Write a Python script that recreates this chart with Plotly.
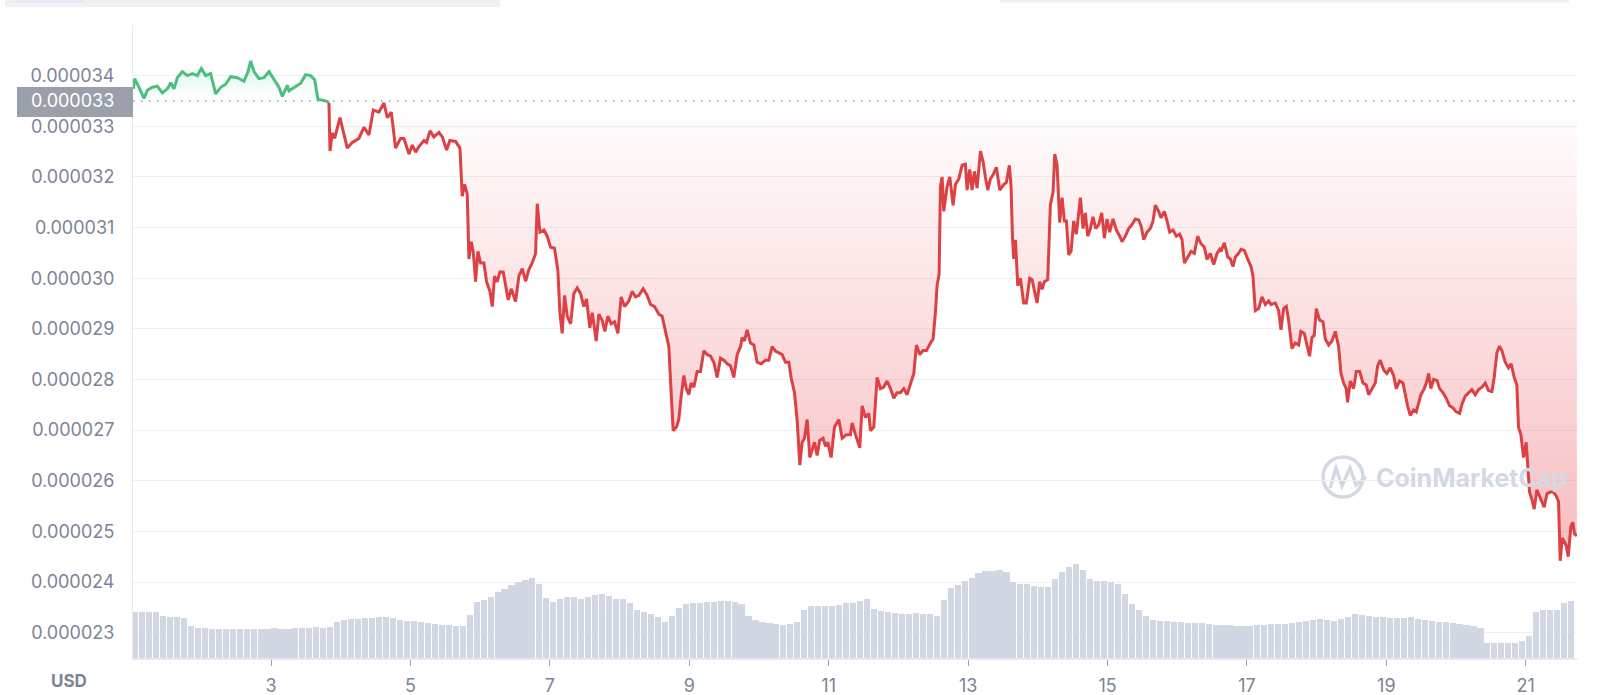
import numpy as np
import plotly.graph_objects as go

# price (in millionths of USD), days of month
days = [
    1.025, 1.044, 1.107, 1.178, 1.226, 1.298, 1.369, 1.441, 1.513, 1.561, 1.608, 1.656, 1.728, 1.800,
    1.871, 1.943, 2.000, 2.063, 2.134, 2.206, 2.278, 2.349, 2.421, 2.517, 2.612, 2.670, 2.708, 2.756,
    2.827, 2.899, 2.971, 3.042, 3.114, 3.162, 3.234, 3.258, 3.329, 3.425, 3.497, 3.568, 3.626, 3.673,
    3.760, 3.807, 3.831, 3.846, 3.879, 3.913, 3.989, 4.046, 4.094, 4.166, 4.261, 4.333, 4.405, 4.467,
    4.548, 4.620, 4.668, 4.725, 4.787, 4.859, 4.907, 4.979, 5.026, 5.074, 5.122, 5.194, 5.232, 5.280,
    5.337, 5.409, 5.457, 5.519, 5.566, 5.648, 5.710, 5.743, 5.777, 5.815, 5.839, 5.872, 5.901, 5.935,
    5.968, 6.006, 6.054, 6.092, 6.140, 6.174, 6.207, 6.245, 6.283, 6.331, 6.365, 6.403, 6.446, 6.508,
    6.556, 6.604, 6.652, 6.699, 6.747, 6.795, 6.819, 6.857, 6.915, 6.962, 7.010, 7.067, 7.115, 7.144,
    7.177, 7.211, 7.249, 7.297, 7.345, 7.392, 7.440, 7.488, 7.526, 7.574, 7.608, 7.665, 7.703, 7.751,
    7.789, 7.832, 7.880, 7.928, 7.976, 8.023, 8.071, 8.133, 8.181, 8.229, 8.277, 8.339, 8.396, 8.444,
    8.501, 8.564, 8.611, 8.659, 8.707, 8.740, 8.769, 8.817, 8.850, 8.884, 8.922, 8.956, 8.994, 9.027,
    9.066, 9.113, 9.161, 9.209, 9.257, 9.305, 9.352, 9.400, 9.448, 9.496, 9.544, 9.591, 9.639, 9.687,
    9.735, 9.759, 9.792, 9.830, 9.878, 9.926, 9.974, 10.031, 10.093, 10.141, 10.189, 10.237, 10.285,
    10.332, 10.380, 10.428, 10.461, 10.509, 10.547, 10.586, 10.619, 10.653, 10.691, 10.729, 10.763,
    10.796, 10.834, 10.872, 10.920, 10.954, 10.987, 11.035, 11.083, 11.145, 11.193, 11.255, 11.312,
    11.336, 11.384, 11.446, 11.480, 11.527, 11.575, 11.599, 11.647, 11.695, 11.742, 11.790, 11.838,
    11.886, 11.934, 11.981, 12.029, 12.077, 12.125, 12.173, 12.221, 12.259, 12.307, 12.354, 12.402,
    12.460, 12.498, 12.531, 12.555, 12.584, 12.603, 12.627, 12.651, 12.699, 12.737, 12.785, 12.818,
    12.866, 12.914, 12.962, 12.985, 13.024, 13.057, 13.091, 13.129, 13.177, 13.215, 13.248, 13.282,
    13.320, 13.358, 13.406, 13.454, 13.511, 13.549, 13.592, 13.616, 13.636, 13.655, 13.679, 13.712,
    13.750, 13.798, 13.836, 13.884, 13.918, 13.951, 13.989, 14.027, 14.061, 14.094, 14.142, 14.180,
    14.219, 14.243, 14.276, 14.314, 14.348, 14.381, 14.410, 14.443, 14.477, 14.515, 14.553, 14.611,
    14.649, 14.682, 14.716, 14.754, 14.792, 14.831, 14.874, 14.917, 14.955, 14.993, 15.031, 15.079,
    15.127, 15.175, 15.208, 15.256, 15.304, 15.352, 15.399, 15.447, 15.485, 15.519, 15.567, 15.614,
    15.653, 15.686, 15.734, 15.767, 15.815, 15.854, 15.892, 15.940, 15.987, 16.035, 16.069, 16.102,
    16.150, 16.198, 16.246, 16.293, 16.341, 16.389, 16.427, 16.475, 16.523, 16.571, 16.609, 16.628,
    16.676, 16.724, 16.762, 16.800, 16.834, 16.881, 16.915, 16.963, 17.010, 17.058, 17.087, 17.120,
    17.168, 17.216, 17.264, 17.312, 17.345, 17.407, 17.455, 17.488, 17.527, 17.565, 17.598, 17.646,
    17.694, 17.742, 17.775, 17.823, 17.861, 17.899, 17.933, 17.966, 17.995, 18.043, 18.091, 18.124,
    18.172, 18.220, 18.268, 18.315, 18.349, 18.387, 18.425, 18.444, 18.483, 18.530, 18.569, 18.617,
    18.664, 18.712, 18.746, 18.793, 18.841, 18.875, 18.913, 18.961, 19.008, 19.056, 19.104, 19.142,
    19.190, 19.238, 19.271, 19.305, 19.343, 19.391, 19.429, 19.463, 19.496, 19.544, 19.582, 19.606,
    19.639, 19.678, 19.726, 19.764, 19.812, 19.859, 19.907, 19.955, 20.003, 20.051, 20.084, 20.132,
    20.180, 20.227, 20.275, 20.323, 20.371, 20.419, 20.466, 20.514, 20.547, 20.586, 20.624, 20.657,
    20.705, 20.753, 20.791, 20.834, 20.872, 20.896, 20.930, 20.968, 21.006, 21.025, 21.054, 21.088,
    21.121, 21.159, 21.197, 21.231, 21.264, 21.303, 21.350, 21.398, 21.436, 21.470, 21.494, 21.523,
    21.551, 21.580, 21.609, 21.647, 21.675, 21.699, 21.733,
]
price_micro = [
    33.74, 33.94, 33.77, 33.55, 33.71, 33.77, 33.79, 33.66, 33.74, 33.86, 33.74, 33.96, 34.08, 34.00,
    34.04, 34.00, 34.14, 34.00, 34.04, 33.64, 33.77, 33.83, 33.98, 33.96, 33.89, 34.08, 34.29, 34.08,
    33.94, 33.96, 34.08, 33.92, 33.77, 33.59, 33.81, 33.70, 33.77, 33.85, 34.02, 34.00, 33.92, 33.53,
    33.51, 33.49, 33.46, 32.51, 32.87, 32.76, 33.17, 32.83, 32.57, 32.68, 32.76, 32.98, 32.83, 33.32,
    33.28, 33.46, 33.17, 33.28, 32.57, 32.76, 32.76, 32.45, 32.63, 32.49, 32.60, 32.72, 32.68, 32.91,
    32.79, 32.88, 32.79, 32.53, 32.72, 32.70, 32.57, 31.62, 31.85, 31.66, 30.38, 30.72, 30.53, 29.93,
    30.53, 30.30, 30.30, 29.93, 29.74, 29.44, 30.04, 29.93, 30.12, 30.12, 29.85, 29.57, 29.79, 29.54,
    30.04, 30.19, 29.94, 30.17, 30.30, 30.49, 31.47, 30.91, 30.95, 30.83, 30.61, 30.59, 30.15, 29.32,
    28.91, 29.66, 29.25, 29.10, 29.70, 29.81, 29.70, 29.44, 29.59, 29.02, 29.32, 28.76, 29.29, 29.17,
    28.95, 29.25, 29.10, 29.14, 28.91, 29.63, 29.44, 29.55, 29.74, 29.63, 29.66, 29.79, 29.66, 29.48,
    29.44, 29.29, 29.25, 28.98, 28.65, 27.74, 26.99, 27.06, 27.21, 27.67, 28.08, 27.82, 27.70, 27.93,
    27.85, 28.16, 28.16, 28.57, 28.49, 28.46, 28.34, 28.04, 28.42, 28.38, 28.31, 28.27, 28.04, 28.49,
    28.65, 28.83, 28.76, 28.98, 28.72, 28.68, 28.34, 28.31, 28.38, 28.38, 28.65, 28.56, 28.53,
    28.49, 28.34, 28.34, 28.04, 27.74, 27.21, 26.31, 26.76, 26.84, 27.21, 26.46, 26.61,
    26.76, 26.50, 26.80, 26.84, 26.68, 26.76, 26.46, 27.06, 27.21, 26.84, 26.91, 26.91,
    27.14, 26.91, 26.65, 27.48, 27.25, 27.33, 26.99, 27.06, 28.04, 27.82, 27.85, 27.97,
    27.82, 27.63, 27.74, 27.74, 27.82, 27.70, 27.89, 28.12, 28.68, 28.49, 28.57, 28.57,
    28.72, 28.80, 29.32, 29.85, 30.08, 31.81, 32.00, 31.32, 31.81, 32.00, 31.44, 31.85,
    31.96, 32.23, 32.25, 31.74, 32.15, 31.74, 32.11, 31.78, 32.51, 32.30, 32.00, 31.74,
    31.96, 32.04, 32.19, 31.74, 31.85, 31.89, 32.23, 31.81, 30.83, 30.38, 30.76, 29.85,
    30.00, 29.51, 29.51, 30.00, 29.97, 29.78, 29.51, 29.93, 29.78, 29.93, 29.97, 31.44,
    31.70, 32.45, 32.23, 31.10, 31.59, 31.13, 31.13, 30.46, 30.53, 31.13, 30.87, 31.59,
    30.98, 31.29, 30.83, 30.98, 31.21, 30.98, 31.06, 31.29, 30.79, 31.17, 30.91, 31.17,
    30.95, 30.83, 30.72, 30.83, 30.98, 31.06, 31.17, 31.15, 31.02, 30.76, 30.91, 30.98,
    31.13, 31.44, 31.32, 31.19, 31.32, 31.13, 30.91, 30.95, 30.83, 30.87, 30.76, 30.30,
    30.42, 30.53, 30.49, 30.83, 30.68, 30.61, 30.37, 30.49, 30.27, 30.49, 30.57, 30.53,
    30.70, 30.42, 30.38, 30.23, 30.42, 30.49, 30.57, 30.55, 30.38, 30.23, 30.04, 29.36,
    29.40, 29.63, 29.48, 29.55, 29.48, 29.51, 29.36, 28.98, 29.40, 29.44, 29.17, 28.61,
    28.72, 28.68, 28.95, 28.91, 28.68, 28.46, 28.83, 28.87, 29.40, 29.17, 29.14, 28.80,
    28.68, 28.76, 28.95, 28.65, 28.12, 27.93, 27.82, 27.55, 27.97, 27.82, 28.16, 28.16,
    27.93, 27.89, 27.70, 27.82, 27.93, 28.27, 28.38, 28.19, 28.12, 28.23, 28.08, 27.82,
    27.97, 27.93, 27.70, 27.48, 27.29, 27.40, 27.36, 27.55, 27.70, 27.82, 27.97, 28.12,
    27.82, 28.00, 27.98, 27.82, 27.74, 27.63, 27.48, 27.44, 27.36, 27.33, 27.51, 27.67,
    27.74, 27.80, 27.70, 27.80, 27.85, 27.93, 27.78, 27.76, 28.04, 28.53, 28.66, 28.57,
    28.34, 28.23, 28.31, 28.04, 27.89, 27.06, 26.91, 26.46, 26.76, 26.38, 25.78, 25.63,
    25.44, 25.82, 25.70, 25.59, 25.48, 25.74, 25.78, 25.78, 25.70, 25.59, 24.42, 24.87,
    24.80, 24.72, 24.50, 25.10, 25.18, 24.95, 24.91,
]
ref_price = 0.0000335  # opening price of the period (dotted line)

# volume bars, every 0.1 day from day 1.05
volume = [
    46.5, 46.5, 46.5, 46, 42, 41.5, 41, 40, 32.5, 30.5,
    30, 29.5, 29.5, 29.5, 29, 28.6, 28.6, 28.8, 29.4, 29.4,
    29.6, 29.4, 29.5, 29.8, 30, 30.2, 30.6, 30.2, 30.8, 36.5,
    38, 39, 39.5, 40, 40.2, 40.8, 41, 40.5, 38.5, 37.5,
    37, 36, 34.8, 34.2, 33.5, 33, 32.5, 31.8, 43, 56,
    58.5, 61, 66.5, 69.5, 73, 76.5, 78.5, 80, 74, 60,
    56.5, 59, 61, 61, 59.5, 61, 63.5, 64.5, 62, 59.5,
    59, 55, 48.5, 46, 44.5, 41.5, 36, 42, 50, 54.5,
    55, 55.5, 56, 56.5, 57.3, 57, 56.5, 54, 42, 38,
    36.3, 35.5, 34.5, 33.5, 34, 36, 48, 52, 52.3, 52.3,
    52.5, 53.5, 55, 55.5, 57, 59, 49, 47, 46, 45,
    44, 44.3, 44.7, 44.3, 44, 42.5, 58, 70, 73.5, 77,
    80.5, 85, 86.7, 87.5, 87.9, 86.5, 76, 74.5, 73.7, 72.5,
    71.4, 70.7, 79, 86.5, 91, 93.6, 88, 79, 77.5, 77.5,
    76, 74, 64, 54, 48.5, 42, 38.5, 37.5, 37, 36.3,
    36, 35.5, 35, 34.6, 34.4, 33.5, 33.2, 32.8, 32.5, 32.2,
    31.8, 33.2, 33.5, 34, 34.2, 34.4, 35.5, 36.5, 37.5, 38.5,
    39.3, 38.5, 37.2, 39.5, 41.5, 43.9, 43.2, 42.2, 41.5, 41,
    40.5, 40.1, 40.5, 40.9, 39.5, 38.2, 37.2, 36.3, 35.8, 35.5,
    34, 33.2, 32, 30.5, 15.5, 15.3, 15.3, 15.3, 15.5, 17.5,
    22, 46, 48.5, 48.5, 48.5, 55.5, 57.3,
]
vol_days = np.round(1.05 + 0.1 * np.arange(len(volume)), 2)

x_ticks = [3, 5, 7, 9, 11, 13, 15, 17, 19, 21]
y_ticks = [0.000023, 0.000024, 0.000025, 0.000026, 0.000027, 0.000028,
           0.000029, 0.000030, 0.000031, 0.000032, 0.000033, 0.000034]

GREEN = "#4cbf7c"
RED = "#dc4144"
GRAY = "#7b8497"
FONT = "Inter, Noto Sans, sans-serif"

W, H = 1600, 695
ML, MR, MT, MB = 133, 23, 25, 37


def px(x):
    return (x - ML) / (W - ML - MR)


def py(y):
    return (H - MB - y) / (H - MT - MB)


price = np.array(price_micro) * 1e-6
days = np.array(days)
# 最初に基準線を大きく割り込んだ点で緑→赤に切り替え
split = int(np.argmax(price < ref_price - 0.5e-6))
g_x, g_y = days[:split], price[:split]
r_x, r_y = days[split - 1:], price[split - 1:]

fig = go.Figure()

fig.add_trace(go.Bar(
    x=vol_days, y=volume, yaxis="y2",
    marker=dict(color="#d1d7e3", line=dict(width=0)),
    width=0.088, hoverinfo="skip",
))

# green part
fig.add_trace(go.Scatter(
    x=[g_x[0], g_x[-1]], y=[ref_price, ref_price],
    mode="lines", line=dict(width=0), hoverinfo="skip",
))
fig.add_trace(go.Scatter(
    x=g_x, y=g_y, mode="lines", fill="tonexty",
    line=dict(color=GREEN, width=3),
    fillgradient=dict(
        type="vertical", start=ref_price, stop=g_y.max(),
        colorscale=[[0, "rgba(22,199,132,0.0)"], [1, "rgba(22,199,132,0.16)"]],
    ),
))

# red part
fig.add_trace(go.Scatter(
    x=[r_x[0], r_x[-1]], y=[ref_price, ref_price],
    mode="lines", line=dict(width=0), hoverinfo="skip",
))
fig.add_trace(go.Scatter(
    x=r_x, y=r_y, mode="lines", fill="tonexty",
    line=dict(color=RED, width=3),
    fillgradient=dict(
        type="vertical", start=r_y.min(), stop=ref_price,
        colorscale=[[0, "rgba(234,57,67,0.34)"], [1, "rgba(234,57,67,0.0)"]],
    ),
))

shapes = [
    # dotted opening-price line
    dict(type="line", xref="paper", x0=0, x1=1, yref="y", y0=ref_price, y1=ref_price,
         line=dict(color="#8a92a1", width=1.4, dash="1.4px,6.6px")),
    # price badge
    dict(type="rect", xref="paper", yref="paper", x0=px(17), x1=px(133), y0=py(117), y1=py(87),
         fillcolor="#9a9faa", line=dict(width=0), layer="above"),
    # cropped page elements at the top
    dict(type="rect", xref="paper", yref="paper", x0=px(5), x1=px(500), y0=py(7), y1=py(-6),
         fillcolor="#eff1f5", line=dict(width=0)),
    dict(type="rect", xref="paper", yref="paper", x0=px(15), x1=px(85), y0=py(2.5), y1=py(-6),
         fillcolor="#e4e7ed", line=dict(width=0)),
    dict(type="rect", xref="paper", yref="paper", x0=px(1000), x1=px(1569), y0=py(2.5), y1=py(-6),
         fillcolor="#eff1f5", line=dict(width=0)),
    # watermark logo
    dict(type="circle", xref="paper", yref="paper", x0=px(1323), x1=px(1363), y0=py(497), y1=py(457),
         line=dict(color="#d3d9e4", width=3.5), layer="below"),
    dict(type="path", xref="paper", yref="paper", layer="below",
         path=(f"M {px(1330)},{py(488)} L {px(1336)},{py(468)} L {px(1342)},{py(486)} "
               f"L {px(1350)},{py(468)} L {px(1356)},{py(485)} L {px(1366)},{py(477)}"),
         line=dict(color="#d3d9e4", width=3.5)),
]

annotations = [
    dict(text="0.000033", xref="paper", yref="y", x=px(116), y=ref_price, xanchor="right",
         yanchor="middle", showarrow=False, font=dict(family=FONT, size=18, color="white")),
    dict(text="<b>USD</b>", xref="paper", yref="paper", x=px(69), y=py(681), xanchor="center",
         yanchor="middle", showarrow=False, font=dict(family=FONT, size=17, color=GRAY)),
    dict(text="<b>CoinMarketCap</b>", xref="paper", yref="paper", x=px(1374), y=py(478),
         xanchor="left", yanchor="middle", showarrow=False,
         font=dict(family=FONT, size=25, color="#d3d9e4")),
]

fig.update_layout(
    width=W, height=H,
    margin=dict(l=ML, r=MR, t=MT, b=MB),
    paper_bgcolor="white", plot_bgcolor="white",
    showlegend=False,
    bargap=0,
    font=dict(family=FONT, color=GRAY, size=18),
    xaxis=dict(
        range=[1.02, 21.735], tickvals=x_ticks, ticktext=[str(t) for t in x_ticks],
        showgrid=False, zeroline=False, showline=True, linecolor="#e4e7ed", linewidth=2,
        ticks="outside", ticklen=6, tickcolor="#9aa1ae", tickwidth=1,
        ticklabelstandoff=4, automargin=False,
        tickfont=dict(family=FONT, size=18, color=GRAY),
    ),
    yaxis=dict(
        range=[0.0000225, 0.000035], tickvals=y_ticks, tickformat=".6f",
        showgrid=True, gridcolor="#eef0f4", gridwidth=1, zeroline=False,
        showline=True, linecolor="#e8eaef", linewidth=1,
        ticks="outside", ticklen=14, tickcolor="rgba(0,0,0,0)", automargin=False,
        tickfont=dict(family=FONT, size=18, color=GRAY),
    ),
    yaxis2=dict(range=[0, 633], overlaying="y", visible=False, fixedrange=True),
    shapes=shapes,
    annotations=annotations,
)

# ページ余白を消して 1600x695 にぴったり合わせる
fig.write_html("out.html", config={"displayModeBar": False},
               post_script="document.body.style.margin='0px';")
